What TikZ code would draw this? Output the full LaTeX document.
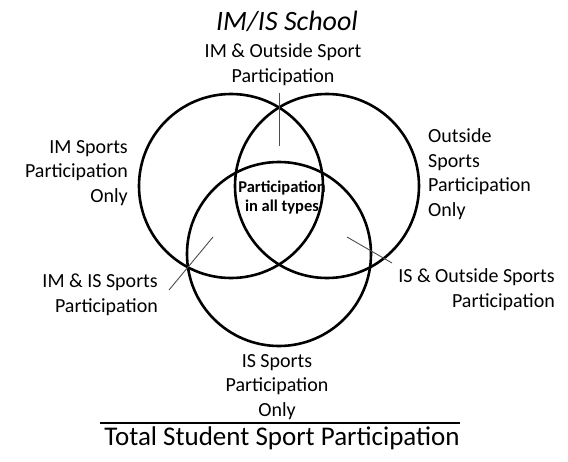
\documentclass[tikz,border=0pt]{standalone}
\usepackage{fontspec}
\setmainfont{Carlito}
\usetikzlibrary{positioning}

\tikzset{
  ring/.style={line width=2.6pt},
  lbl/.style={font=\fontsize{20}{24.5}\selectfont, inner sep=0pt},
  pointer/.style={line width=0.9pt, black!70},
}

\begin{document}
\begin{tikzpicture}[x=1pt,y=-1pt]
        \useasboundingbox (0,0) rectangle (568,461);

        % Circles
        \coordinate (imc) at (231,186);
        \coordinate (osc) at (327,186);
        \coordinate (isc) at (279,254);
        \draw[ring] (imc) circle[radius=92pt];
        \draw[ring] (osc) circle[radius=92pt];
        \draw[ring] (isc) circle[radius=92pt];

        % Heading
        \node[font=\fontsize{28}{30}\selectfont\itshape, inner sep=0pt, anchor=base] (school) at (287,30) {IM/IS School};

        % Region labels
        \node[lbl, anchor=base, align=center] (imos) at (283,82) {IM \& Outside Sport\\Participation};
        \node[lbl, anchor=base east, align=right] (imonly) at (128,202) {IM Sports\\Participation\\Only};
        \node[lbl, anchor=base west, align=left] (osonly) at (428,216) {Outside\\Sports\\Participation\\Only};
        \node[lbl, anchor=base east, align=right] (imis) at (158,312) {IM \& IS Sports\\Participation};
        \node[lbl, anchor=base east, align=right] (isos) at (555,307) {IS \& Outside Sports\\Participation};
        \node[lbl, anchor=base, align=center] (isonly) at (277,416) {IS Sports\\Participation\\Only};
        \node[font=\fontsize{16.5}{18.5}\selectfont\bfseries, inner sep=0pt, anchor=base, align=center] (all) at (282,211) {Participation\\in all types};

        % Pointers
        \coordinate (imostop) at (279,93);
        \coordinate (imostip) at (279,146);
        \coordinate (imisend) at (169,290);
        \coordinate (imistip) at (213,237);
        \coordinate (isosend) at (392,263);
        \coordinate (isostip) at (347,237);
        \draw[pointer] (imostop) -- (imostip);
        \draw[pointer] (imisend) -- (imistip);
        \draw[pointer] (isosend) -- (isostip);

        % Footer
        \coordinate (rulel) at (100,423);
        \coordinate (ruler) at (460,423);
        \draw[line width=1.4pt] (rulel) -- (ruler);
        \node[font=\fontsize{27}{30}\selectfont, inner sep=0pt, anchor=base] (total) at (282,445) {Total Student Sport Participation};

    \end{tikzpicture}
\end{document}
